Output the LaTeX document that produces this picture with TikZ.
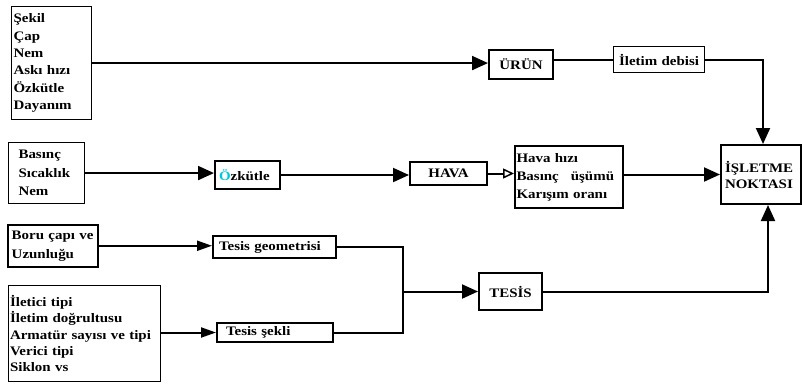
\documentclass[tikz,border=0pt]{standalone}
\usepackage{fontspec}
\setmainfont{Liberation Serif}[FakeStretch=1.15]
\usetikzlibrary{arrows.meta}
\begin{document}
\begin{tikzpicture}[x=1pt,y=-1pt,
  box/.style={draw, line width=2pt, inner ysep=0pt, anchor=north west,
    font=\fontsize{13}{17}\selectfont\bfseries},
  thinbox/.style={box, line width=1.1pt},
  conn/.style={line width=2pt},
  tip/.style={-{Triangle[length=16pt,width=14pt]}},
  slimtip/.style={-{Triangle[length=15pt,width=10pt]}},
  opentip/.style={-{Triangle[open,length=11pt,width=10pt,line width=1.5pt]}}
]
\useasboundingbox (0,0) rectangle (802,383);

% input boxes
\node[thinbox, inner xsep=2pt, text width=76pt, minimum height=113pt, align=left,
  font=\fontsize{13}{17.3}\selectfont\bfseries] (shape) at (11,6)
  {Şekil\\Çap\\Nem\\Askı hızı\\Özkütle\\Dayanım};
\node[thinbox, inner xsep=10pt, text width=56pt, minimum height=61pt, align=left,
  font=\fontsize{13}{18.5}\selectfont\bfseries] (basinc) at (8,142)
  {Basınç\\Sıcaklık\\Nem};
\node[box, line width=1.5pt, inner xsep=4pt, text width=82pt, minimum height=42pt, align=left,
  font=\fontsize{13}{19}\selectfont\bfseries] (boru) at (7,224)
  {Boru çapı ve\\Uzunluğu};
\node[thinbox, inner xsep=1.5pt, text width=149pt, minimum height=96pt, align=left,
  font=\fontsize{13}{16.3}\selectfont\bfseries] (ilet) at (8,285)
  {İletici tipi\\İletim doğrultusu\\Armatür sayısı ve tipi\\Verici tipi\\Siklon vs};

% middle boxes
\node[box, inner xsep=2pt, text width=60pt, minimum height=29pt, align=center] (urun) at (488,49) {ÜRÜN};
\node[thinbox, inner xsep=4pt, text width=83pt, minimum height=26pt, align=center] (debi) at (613,46) {İletim debisi};
\node[box, inner xsep=4pt, text width=57pt, minimum height=28pt, align=left] (ozk) at (214,160)
  {\textcolor[RGB]{0,200,220}{Ö}zkütle};
\node[box, inner xsep=2pt, text width=73pt, minimum height=23pt, align=center] (hava) at (409,161) {HAVA};
\node[box, inner xsep=1.5pt, text width=105pt, minimum height=62pt, align=left,
  font=\fontsize{13}{18}\selectfont\bfseries] (havahiz) at (514,145)
  {Hava hızı\\Basınç\hspace{12pt}üşümü\\Karışım oranı};
\node[box, inner xsep=6pt, text width=111pt, minimum height=22pt, align=left] (tgeo) at (212,235) {Tesis geometrisi};
\node[box, inner xsep=9pt, text width=98pt, minimum height=19pt, align=left] (tsek) at (216,322) {Tesis şekli};
\node[box, inner xsep=2pt, text width=59pt, minimum height=37pt, align=center] (tesis) at (478,272) {TESİS};
\node[box, inner xsep=4pt, text width=72pt, minimum height=59pt, align=left,
  font=\fontsize{13}{16}\selectfont\bfseries] (islet) at (720,144)
  {İŞLETME\\NOKTASI};

\coordinate (jn) at (403,0);
\coordinate (topin) at (763,0);
\coordinate (botin) at (768,0);

% connectors
\draw[conn,tip] (shape.east) -- (shape.east -| urun.west);
\draw[conn] (urun.east |- debi.west) -- (debi.west);
\draw[conn,tip] (debi.east) -| (topin |- islet.north);
\draw[conn,tip] (basinc.east) -- (basinc.east -| ozk.west);
\draw[conn,tip] (ozk.east) -- (ozk.east -| hava.west);
\draw[conn,opentip] (hava.east) -- (hava.east -| havahiz.west);
\draw[conn,tip] (islet.west -| havahiz.east) -- (islet.west);
\draw[conn,slimtip] (boru.east) -- (boru.east -| tgeo.west);
\draw[conn,slimtip] (ilet.east |- tsek.west) -- (tsek.west);
\draw[conn] (tgeo.east) -| (jn |- tsek.east) -- (tsek.east);
\draw[conn,tip] (jn |- tesis.west) -- (tesis.west);
\draw[conn,tip] (tesis.east) -| (botin |- islet.south);
\end{tikzpicture}
\end{document}
